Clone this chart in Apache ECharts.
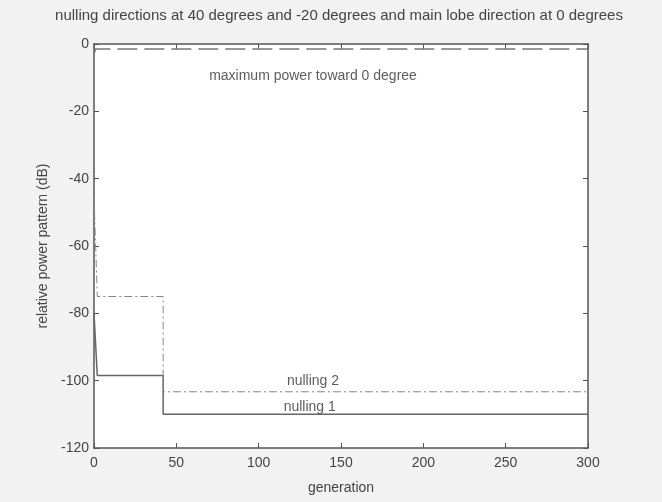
<!DOCTYPE html>
<html>
<head>
<meta charset="utf-8">
<script src="https://cdn.jsdelivr.net/npm/echarts@6/dist/echarts.min.js"></script>
<style>
  html, body { margin: 0; padding: 0; background: #f2f2f2; }
  #chart { width: 662px; height: 502px; }
</style>
</head>
<body>
<div id="chart"></div>
<script>
// Relative power pattern (dB) versus GA generation
const mainLobeGen = [0, 1, 300];
const mainLobeDb  = [-3, -1.5, -1.5];

const null1Gen = [0, 1, 2, 42, 42, 300];
const null1Db  = [-80, -80, -98.5, -98.5, -110, -110];

const null2Gen = [0, 1, 2, 42, 42, 300];
const null2Db  = [-45, -60, -75, -75, -103.3, -103.3];

const xTicks = [0, 50, 100, 150, 200, 250, 300];
const yTicks = [0, -20, -40, -60, -80, -100, -120];

const titleText = 'nulling directions at 40 degrees and -20 degrees and main lobe direction at 0 degrees';
const notes = [
  { gen: 133, db: -9.5, text: 'maximum power toward 0 degree' },
  { gen: 133, db: -100, text: 'nulling 2' },
  { gen: 131, db: -108, text: 'nulling 1' }
];

const pairs = (xs, ys) => xs.map((x, i) => [x, ys[i]]);
const axisColor = '#555';
const textColor = '#444';
const font = 'Liberation Sans, Arial, sans-serif';

const chart = echarts.init(document.getElementById('chart'));

const frameLine = { show: true, onZero: false, lineStyle: { color: axisColor, width: 1.5 } };
const frameTick = { show: true, inside: true, length: 5, lineStyle: { color: axisColor } };

chart.setOption({
  backgroundColor: '#f2f2f2',
  animation: false,
  title: {
    text: titleText,
    left: 334, top: 3, textAlign: 'center',
    textStyle: { fontFamily: font, fontSize: 15, fontWeight: 'normal', color: textColor }
  },
  grid: { left: 94, right: 74, top: 44, bottom: 54, show: true, backgroundColor: '#ffffff', borderWidth: 0 },
  xAxis: [
    {
      type: 'value', min: 0, max: 300, interval: 50, position: 'bottom',
      name: 'generation', nameLocation: 'middle', nameGap: 33,
      nameTextStyle: { fontFamily: font, fontSize: 14, color: textColor },
      axisLine: frameLine, axisTick: frameTick,
      axisLabel: { fontFamily: font, fontSize: 14, color: textColor, margin: 8,
        formatter: v => xTicks.includes(v) ? String(v) : '' },
      splitLine: { show: false }
    },
    {
      type: 'value', min: 0, max: 300, interval: 50, position: 'top',
      axisLine: frameLine, axisTick: frameTick,
      axisLabel: { show: false }, splitLine: { show: false }
    }
  ],
  yAxis: [
    {
      type: 'value', min: -120, max: 0, interval: 20, position: 'left',
      name: 'relative power pattern (dB)', nameLocation: 'middle', nameGap: 37,
      nameTextStyle: { fontFamily: font, fontSize: 14, color: textColor },
      axisLine: frameLine, axisTick: frameTick,
      axisLabel: { fontFamily: font, fontSize: 14, color: textColor, margin: 5,
        formatter: v => yTicks.includes(v) ? String(v) : '' },
      splitLine: { show: false }
    },
    {
      type: 'value', min: -120, max: 0, interval: 20, position: 'right',
      axisLine: frameLine, axisTick: frameTick,
      axisLabel: { show: false }, splitLine: { show: false }
    }
  ],
  series: [
    {
      name: 'main lobe', type: 'line', symbol: 'none',
      data: pairs(mainLobeGen, mainLobeDb),
      lineStyle: { color: '#777', width: 1.5, type: [20, 7] }
    },
    {
      name: 'nulling 1', type: 'line', symbol: 'none',
      data: pairs(null1Gen, null1Db),
      lineStyle: { color: '#666', width: 1.5 }
    },
    {
      name: 'nulling 2', type: 'line', symbol: 'none',
      data: pairs(null2Gen, null2Db),
      lineStyle: { color: '#888', width: 1, type: [8, 3, 2, 3] }
    },
    {
      name: 'notes', type: 'scatter', symbolSize: 0, silent: true,
      data: notes.map(n => ({ value: [n.gen, n.db], label: { formatter: n.text } })),
      label: { show: true, position: 'inside', fontFamily: font, fontSize: 14, color: '#333' }
    }
  ]
});
</script>
</body>
</html>
